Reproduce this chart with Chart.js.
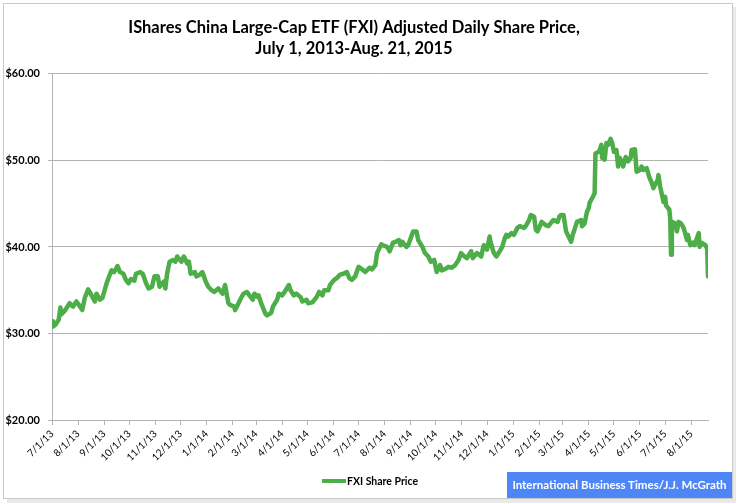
<!DOCTYPE html>
<html>
<head>
<meta charset="utf-8">
<script src="https://cdn.jsdelivr.net/npm/chart.js@4.4.1/dist/chart.umd.min.js"></script>
<style>
  html, body { margin: 0; padding: 0; background: #ffffff; }
  #wrap { position: relative; width: 736px; height: 504px; overflow: hidden; }
  #c { position: absolute; left: 0; top: 0; }
  #frame { position: absolute; left: 3px; top: 3px; width: 728px; height: 494px; border: 1px solid #c9c9c9; pointer-events: none;
           box-shadow: 4px 4px 0 #e9e9e9; }
  #credit { position: absolute; left: 507px; top: 472px; width: 225px; height: 26px; background: #4f86f7; color: #ffffff;
            font-family: Lato, "Open Sans", sans-serif; font-weight: bold; font-size: 11.5px; line-height: 26px; text-align: center; }
  #legend { position: absolute; left: 322px; top: 475px; height: 12px; white-space: nowrap;
            font-family: Lato, "Open Sans", sans-serif; font-weight: bold; font-size: 10.5px; line-height: 12px; color: #000; }
  #legend .bar { display: inline-block; width: 24px; height: 4px; vertical-align: middle; margin-right: 1px; position: relative; top: -1px; }
</style>
</head>
<body>
<div id="wrap">
  <canvas id="c" width="736" height="504"></canvas>
  <div id="frame"></div>
  <div id="legend"><span class="bar"></span><span class="txt"></span></div>
  <div id="credit">International Business Times/J.J. McGrath</div>
</div>
<script>
const titleLines = ['IShares China Large-Cap ETF (FXI) Adjusted Daily Share Price,', 'July 1, 2013-Aug. 21, 2015'];
const seriesName = 'FXI Share Price';
const startDate = '2013-07-01';
const endDate = '2015-08-21';
const tickLabels = ['7/1/13','8/1/13','9/1/13','10/1/13','11/1/13','12/1/13','1/1/14','2/1/14','3/1/14','4/1/14','5/1/14','6/1/14','7/1/14','8/1/14','9/1/14','10/1/14','11/1/14','12/1/14','1/1/15','2/1/15','3/1/15','4/1/15','5/1/15','6/1/15','7/1/15','8/1/15'];
const yTicks = [20, 30, 40, 50, 60];

const dates = [
'2013-07-01','2013-07-02','2013-07-05','2013-07-09','2013-07-11','2013-07-12','2013-07-16','2013-07-22','2013-07-26','2013-07-30',
'2013-08-02','2013-08-06','2013-08-09','2013-08-13','2013-08-16','2013-08-21','2013-08-23','2013-08-27','2013-08-30','2013-09-04',
'2013-09-09','2013-09-10','2013-09-13','2013-09-17','2013-09-20','2013-09-24','2013-09-27','2013-09-30','2013-10-03','2013-10-07',
'2013-10-09','2013-10-14','2013-10-17','2013-10-21','2013-10-24','2013-10-28','2013-10-31','2013-11-04','2013-11-06','2013-11-11',
'2013-11-13','2013-11-15','2013-11-18','2013-11-22','2013-11-25','2013-11-27','2013-12-02','2013-12-05','2013-12-09','2013-12-11',
'2013-12-13','2013-12-18','2013-12-20','2013-12-24','2013-12-27','2013-12-31','2014-01-03','2014-01-07','2014-01-10','2014-01-15',
'2014-01-20','2014-01-23','2014-01-27','2014-01-29','2014-02-03','2014-02-04','2014-02-06','2014-02-10','2014-02-14','2014-02-18',
'2014-02-21','2014-02-25','2014-02-27','2014-03-03','2014-03-04','2014-03-07','2014-03-12','2014-03-14','2014-03-19','2014-03-21',
'2014-03-26','2014-03-28','2014-04-01','2014-04-04','2014-04-09','2014-04-11','2014-04-15','2014-04-18','2014-04-23','2014-04-25',
'2014-04-30','2014-05-02','2014-05-07','2014-05-12','2014-05-15','2014-05-19','2014-05-21','2014-05-26','2014-05-28','2014-06-02',
'2014-06-05','2014-06-09','2014-06-13','2014-06-17','2014-06-20','2014-06-23','2014-06-27','2014-07-01','2014-07-04','2014-07-09',
'2014-07-14','2014-07-17','2014-07-21','2014-07-23','2014-07-28','2014-07-30','2014-08-04','2014-08-07','2014-08-11','2014-08-14',
'2014-08-18','2014-08-20','2014-08-22','2014-08-27','2014-08-29','2014-09-04','2014-09-08','2014-09-10','2014-09-15','2014-09-18',
'2014-09-22','2014-09-25','2014-09-29','2014-10-02','2014-10-06','2014-10-08','2014-10-13','2014-10-16','2014-10-20','2014-10-24',
'2014-10-28','2014-10-31','2014-11-04','2014-11-07','2014-11-12','2014-11-14','2014-11-19','2014-11-24','2014-11-27','2014-12-01',
'2014-12-04','2014-12-05','2014-12-09','2014-12-12','2014-12-16','2014-12-19','2014-12-22','2014-12-24','2014-12-26','2014-12-30',
'2015-01-02','2015-01-06','2015-01-09','2015-01-14','2015-01-16','2015-01-20','2015-01-22','2015-01-26','2015-01-28','2015-01-30',
'2015-02-04','2015-02-09','2015-02-12','2015-02-16','2015-02-18','2015-02-23','2015-02-25','2015-02-27','2015-03-02','2015-03-05',
'2015-03-09','2015-03-11','2015-03-13','2015-03-18','2015-03-23','2015-03-24','2015-03-27','2015-03-30','2015-04-01','2015-04-02',
'2015-04-06','2015-04-08','2015-04-09','2015-04-13','2015-04-14','2015-04-16','2015-04-17','2015-04-20','2015-04-22','2015-04-24',
'2015-04-27','2015-04-29','2015-05-01','2015-05-04','2015-05-06','2015-05-08','2015-05-12','2015-05-15','2015-05-18','2015-05-21',
'2015-05-22','2015-05-26','2015-05-28','2015-06-01','2015-06-03','2015-06-05','2015-06-09','2015-06-12','2015-06-15','2015-06-17',
'2015-06-19','2015-06-22','2015-06-23','2015-06-25','2015-06-29','2015-07-01','2015-07-02','2015-07-06','2015-07-07','2015-07-08',
'2015-07-09','2015-07-13','2015-07-15','2015-07-17','2015-07-20','2015-07-23','2015-07-27','2015-07-28','2015-07-31','2015-08-03',
'2015-08-05','2015-08-10','2015-08-11','2015-08-13','2015-08-18','2015-08-20','2015-08-21'
];

const prices = [
31.4,30.8,31.0,31.6,33.0,32.2,32.6,33.5,33.1,33.7,
33.3,32.7,34.1,35.1,34.6,33.7,34.6,33.9,34.1,35.8,
37.1,37.3,37.1,37.8,37.1,36.9,36.2,35.8,36.3,36.1,
36.9,37.1,36.9,35.8,35.2,35.4,36.6,36.6,35.4,36.0,
35.2,36.9,38.3,38.5,38.3,38.9,38.3,38.9,38.1,38.3,
36.9,37.1,36.6,36.8,37.1,36.0,35.4,35.0,34.8,35.2,
34.6,35.6,33.5,33.3,33.1,32.7,33.1,33.9,34.6,34.8,
34.4,33.9,34.6,34.2,34.4,33.5,32.3,32.1,32.4,33.1,
33.9,34.6,34.4,34.8,35.6,35.0,34.4,34.6,34.2,33.7,
33.9,33.5,33.6,34.2,34.8,34.4,35.0,35.0,35.6,36.2,
36.4,36.8,36.9,37.1,36.4,36.2,36.6,37.7,37.5,37.1,
37.6,37.4,37.9,39.3,40.3,40.2,40.0,39.5,40.5,40.6,
40.8,40.2,40.6,40.0,40.2,41.8,41.8,40.8,40.0,39.3,
38.9,38.3,38.5,37.1,37.9,37.3,37.5,37.7,37.6,37.9,
38.5,39.3,38.9,38.7,39.5,38.7,39.3,38.9,40.2,39.7,
41.2,40.6,39.3,38.9,39.5,40.0,41.0,41.4,41.2,41.6,
41.4,42.2,42.4,42.2,42.4,43.1,43.7,43.5,42.0,41.8,
42.9,42.5,42.4,42.9,43.1,42.9,43.5,43.7,43.7,41.8,
41.0,40.6,41.4,42.9,43.1,42.4,42.7,44.1,44.5,45.1,
45.8,46.2,50.8,51.0,51.2,51.8,50.3,50.1,52.0,51.8,
52.5,52.0,51.0,51.2,49.3,50.3,49.3,50.4,49.9,50.3,
51.2,51.3,48.7,48.9,49.3,48.9,49.1,48.1,47.4,46.8,
47.2,47.7,48.3,47.0,45.2,45.8,44.8,44.3,43.3,39.1,
42.9,42.7,41.8,42.9,42.7,42.2,40.8,41.4,40.2,40.5,
40.2,41.6,40.0,40.5,40.2,39.8,36.6
];

const MS_DAY = 86400000;
function isoToDay(s) {
  const p = s.split('-').map(Number);
  const b = startDate.split('-').map(Number);
  return Math.round((Date.UTC(p[0], p[1] - 1, p[2]) - Date.UTC(b[0], b[1] - 1, b[2])) / MS_DAY);
}
function labelToDay(l) {
  const p = l.split('/').map(Number);
  const b = startDate.split('-').map(Number);
  return Math.round((Date.UTC(2000 + p[2], p[0] - 1, p[1]) - Date.UTC(b[0], b[1] - 1, b[2])) / MS_DAY);
}

const points = dates.map((d, i) => ({ x: isoToDay(d), y: prices[i] }));
const GREEN = '#4dad48';
const GRID = '#b4b4b4';
const FONT = 'Lato, "Open Sans", sans-serif';

document.querySelector('#legend .bar').style.background = GREEN;
document.querySelector('#legend .txt').textContent = seriesName;

new Chart(document.getElementById('c'), {
  type: 'line',
  data: {
    datasets: [{
      label: seriesName,
      data: points,
      borderColor: GREEN,
      backgroundColor: GREEN,
      borderWidth: 4.5,
      pointRadius: 0,
      tension: 0,
      borderJoinStyle: 'round',
      borderCapStyle: 'round',
      fill: false
    }]
  },
  options: {
    responsive: false,
    animation: false,
    layout: { padding: { left: 0, right: 28, top: 0, bottom: 40 } },
    plugins: {
      tooltip: { enabled: false },
      legend: { display: false },
      title: {
        display: true,
        text: titleLines,
        color: '#000000',
        font: { family: FONT, size: 16.5, weight: 'bold', lineHeight: 1.27 },
        padding: { top: 17, bottom: 15 }
      }
    },
    scales: {
      x: {
        type: 'linear',
        min: 0,
        max: isoToDay(endDate),
        afterBuildTicks: (s) => { s.ticks = tickLabels.map(l => ({ value: labelToDay(l) })); },
        afterFit: (s) => { s.height = 44; },
        grid: { display: true, drawOnChartArea: false, drawTicks: true, tickLength: 5, color: GRID },
        border: { display: true, color: GRID },
        ticks: {
          autoSkip: false,
          maxRotation: 45,
          minRotation: 45,
          padding: 3,
          color: '#000000',
          font: { family: FONT, size: 10 },
          callback: (v, i) => tickLabels[i]
        }
      },
      y: {
        min: yTicks[0],
        max: yTicks[yTicks.length - 1],
        afterBuildTicks: (s) => { s.ticks = yTicks.map(v => ({ value: v })); },
        afterFit: (s) => { s.width = 52; },
        grid: { color: GRID, drawTicks: true, tickLength: 4 },
        border: { display: true, color: GRID },
        ticks: {
          padding: 8,
          color: '#000000',
          font: { family: FONT, size: 11, weight: 'bold' },
          callback: (v) => '$' + Number(v).toFixed(2)
        }
      }
    }
  }
});
</script>
</body>
</html>
